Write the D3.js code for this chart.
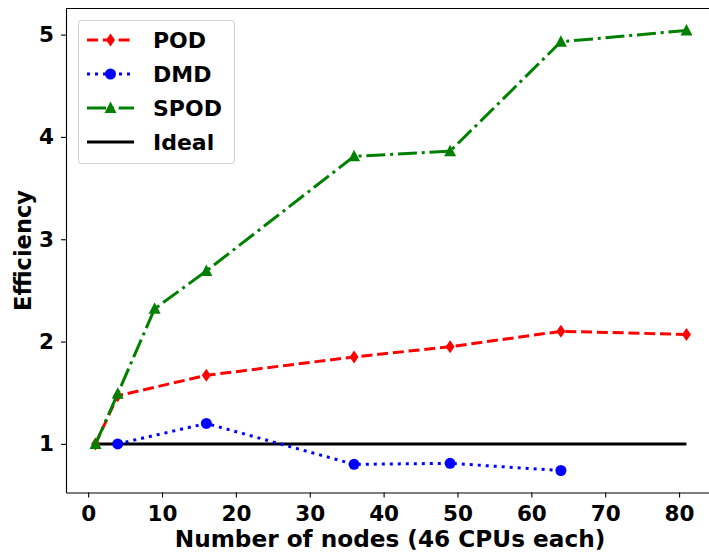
<!DOCTYPE html>
<html><head><meta charset="utf-8">
<script src="https://cdn.jsdelivr.net/npm/d3@7"></script>
<style>body{margin:0;background:#fff}svg{display:block;font-family:"DejaVu Sans",sans-serif;font-weight:bold}</style>
</head><body><svg id="c" width="709" height="553"></svg>
<script>
const podX = [1, 4, 16, 36, 49, 64, 81];
const podY = [1.0, 1.47, 1.67, 1.85, 1.95, 2.10, 2.07];
const dmdX = [4, 16, 36, 49, 64];
const dmdY = [1.0, 1.20, 0.80, 0.81, 0.74];
const spodX = [1, 4, 9, 16, 36, 49, 64, 81];
const spodY = [1.0, 1.49, 2.32, 2.69, 3.81, 3.86, 4.93, 5.04];
const idealX = [1, 81];
const idealY = [1, 1];
const xTicks = [0, 10, 20, 30, 40, 50, 60, 70, 80];
const yTicks = [1, 2, 3, 4, 5];
const legendLabels = ["POD", "DMD", "SPOD", "Ideal"];

const svg = d3.select("#c");
const L = 66, R = 716, T = 8.5, B = 492.5;
const x = d3.scaleLinear().domain([-3, 85]).range([L, R]);
const y = d3.scaleLinear().domain([0.525, 5.255]).range([B, T]);

// axes
const xa = svg.append("g").attr("transform", `translate(0,${B})`)
  .call(d3.axisBottom(x).tickValues(xTicks).tickFormat(d3.format("d")).tickSize(5).tickPadding(7).tickSizeOuter(0));
const ya = svg.append("g").attr("transform", `translate(${L},0)`)
  .call(d3.axisLeft(y).tickValues(yTicks).tickFormat(d3.format("d")).tickSize(5).tickPadding(7).tickSizeOuter(0));
[xa, ya].forEach(a => {
  a.selectAll("text").attr("font-size", 21.5).attr("font-family", "DejaVu Sans").attr("font-weight", "bold").attr("fill", "#000");
  a.selectAll("line").attr("stroke", "#000").attr("stroke-width", 1.1);
  a.select(".domain").attr("stroke", "#000").attr("stroke-width", 1.1);
});
xa.selectAll("text").attr("dy", "0.76em");
// top spine
svg.append("line").attr("x1", L).attr("x2", R).attr("y1", T).attr("y2", T).attr("stroke", "#000").attr("stroke-width", 1.1);

// labels
svg.append("text").attr("x", 390).attr("y", 547).attr("text-anchor", "middle")
  .attr("font-size", 23.2).text("Number of nodes (46 CPUs each)");
svg.append("text").attr("transform", `translate(31,${(T + B) / 2}) rotate(-90)`).attr("text-anchor", "middle")
  .attr("font-size", 22.5).text("Efficiency");

const line = d3.line().x(d => x(d[0])).y(d => y(d[1]));
const zip = (a, b) => a.map((v, i) => [v, b[i]]);

const series = [
  {name: "POD", xs: podX, ys: podY, color: "red", dash: "11,4.8", marker: "diamond"},
  {name: "DMD", xs: dmdX, ys: dmdY, color: "blue", dash: "3,5", marker: "circle"},
  {name: "SPOD", xs: spodX, ys: spodY, color: "green", dash: "19,4.8,3,4.8", marker: "triangle"},
  {name: "Ideal", xs: idealX, ys: idealY, color: "black", dash: null, marker: null}
];

function drawMarker(g, type, cx, cy, color) {
  if (type === "diamond") {
    g.append("path").attr("d", `M${cx},${cy - 6.5}L${cx + 4.5},${cy}L${cx},${cy + 6.5}L${cx - 4.5},${cy}Z`).attr("fill", color);
  } else if (type === "circle") {
    g.append("circle").attr("cx", cx).attr("cy", cy).attr("r", 5.5).attr("fill", color);
  } else if (type === "triangle") {
    g.append("path").attr("d", `M${cx},${cy - 6.5}L${cx + 6},${cy + 5}L${cx - 6},${cy + 5}Z`).attr("fill", color);
  }
}

const plot = svg.append("g");
// ideal first (beneath), then others
const order = [3, 0, 1, 2];
order.forEach(i => {
  const s = series[i];
  const g = plot.append("g");
  g.append("path").attr("d", line(zip(s.xs, s.ys))).attr("fill", "none").attr("stroke", s.color)
    .attr("stroke-width", 3).attr("stroke-dasharray", s.dash);
  if (s.marker) s.xs.forEach((xv, j) => drawMarker(g, s.marker, x(xv), y(s.ys[j]), s.color));
});

// legend
const lg = svg.append("g");
lg.append("rect").attr("x", 78.5).attr("y", 20.5).attr("width", 156).attr("height", 143).attr("rx", 3)
  .attr("fill", "#fff").attr("fill-opacity", 0.8).attr("stroke", "#d0d0d0").attr("stroke-width", 1);
legendLabels.forEach((lab, i) => {
  const s = series[i];
  const cy = 40 + i * 34;
  lg.append("line").attr("x1", 87).attr("x2", 134).attr("y1", cy).attr("y2", cy)
    .attr("stroke", s.color).attr("stroke-width", 3).attr("stroke-dasharray", s.dash);
  if (s.marker) drawMarker(lg, s.marker, 110.5, cy, s.color);
  lg.append("text").attr("x", 153).attr("y", cy).attr("dy", "0.36em").attr("font-size", 22).text(lab);
});
</script></body></html>
